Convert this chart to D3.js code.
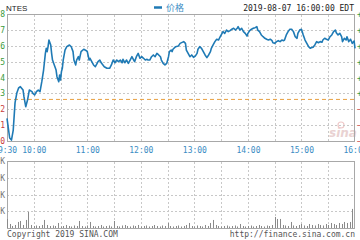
<!DOCTYPE html>
<html><head><meta charset="utf-8">
<script src="https://cdn.jsdelivr.net/npm/d3@7"></script>
<style>
html,body{margin:0;padding:0;background:#fff;overflow:hidden;}
svg{display:block;}
</style></head>
<body>
<svg id="chart" width="360" height="240"></svg>
<script>
// ---- data ----
const symbol = "NTES";
const stamp = "2019-08-07 16:00:00 EDT";
const prevClose = 222.62;
// minutes after 9:30 for each price sample
const minutes = [0,3,5,7,9,11,13,15,18,19,21,23,25,28,29,31,33,35,37,39,41,43,44,45,46,47,49,50,51,53,55,56,58,59,60,61,62,63,65,67,70,72,74,75,77,78,80,81,83,86,89,90,92,
93,95,97,99,101,102,104,106,109,112,115,117,119,121,123,125,127,129,130,132,134,136,138,140,142,143,145,147,149,151,153,155,157,158,160,162,164,166,168,170,172,173,175,177,179,181,182,184,185,186,189,192,194,
198,200,201,203,205,207,209,211,213,214,216,218,220,222,224,226,228,229,231,233,235,237,239,241,242,244,246,248,250,252,254,256,258,259,261,263,265,267,269,270,272,274,276,278,280,281,283,285,287,289,291,293,295,
297,298,300,302,304,306,308,310,311,313,315,317,319,321,323,325,326,328,330,332,334,336,338,340,341,343,345,347,349,351,353,354,356,358,360,362,364,366,368,369,371,373,375,376,378,380,381,383,385,387,389,390];
const prices = [221.43,220.19,220.06,220.69,222.40,223.02,223.34,223.42,223.21,222.79,222.16,222.58,223.21,223.11,223.00,222.90,223.11,223.21,223.11,223.74,224.47,225.52,225.84,225.63,225.94,226.36,226.05,225.52,225.10,224.79,224.47,224.05,223.74,224.16,223.84,224.37,224.58,225.10,225.73,225.94,226.05,225.94,225.63,225.10,224.79,225.10,225.31,225.10,225.63,225.78,225.69,225.63,225.10,
225.21,225.00,224.79,224.68,224.89,225.00,225.10,224.89,224.68,224.58,224.58,224.79,225.10,224.93,225.10,225.00,225.10,224.93,225.15,224.93,225.10,224.89,225.10,225.31,225.10,225.00,225.31,225.52,225.21,225.31,225.21,225.10,225.15,225.10,225.10,225.31,225.42,225.31,225.52,225.42,225.31,225.10,224.89,224.79,224.89,225.31,225.63,225.73,225.63,225.78,225.94,225.98,226.15,
226.26,226.15,225.73,225.52,225.31,225.42,225.27,225.35,225.52,225.78,225.94,225.84,225.63,225.42,225.25,225.42,225.63,225.84,226.05,226.26,226.41,226.36,226.57,226.78,226.89,226.78,226.99,226.89,226.95,227.04,227.10,226.99,227.10,227.20,226.99,227.10,226.89,226.78,226.61,226.78,226.95,227.04,227.10,227.14,227.20,226.99,226.89,226.68,226.57,226.47,226.41,226.36,226.41,
226.32,226.19,226.15,226.26,226.32,226.26,226.36,226.32,226.36,226.68,226.89,227.04,227.04,226.89,226.57,226.47,226.78,226.99,227.04,226.68,226.36,226.15,225.94,225.84,225.88,225.90,226.05,226.26,226.19,226.26,226.22,226.36,226.47,226.41,226.36,226.57,226.68,226.89,226.99,226.82,226.68,226.78,226.57,226.26,226.47,226.36,226.57,226.26,226.41,226.15,226.30,225.84];
// volume per 3-minute slot, shares
const volumes = [5400,2400,1200,1800,3600,4200,1800,4800,9600,1800,1200,1500,1200,1800,4800,1800,1200,1500,1200,3000,
900,1200,1800,1200,900,1500,1200,4200,1200,900,1500,3600,1200,900,1200,1800,900,1200,1500,900,
4200,1200,900,1500,1800,1200,900,1500,1200,1800,900,1200,1500,900,1200,1800,1200,900,1500,1200,
3000,1200,900,1200,1500,900,1200,1800,3000,1200,900,1500,1200,900,1800,1200,3000,4800,1800,1200,
900,1200,1500,900,1200,1500,900,2400,1200,900,1200,1500,900,1200,1800,1200,900,1500,1200,1800,
6600,5400,5400,1800,1500,1200,3600,1500,1200,1800,2400,1500,1200,2400,1800,1500,2400,1800,1500,2400,
1800,3000,2400,1800,3000,2400,3600,3000,3600,11400];
const volSlot = 3;
const priceTicks = [220,221,222,223,224,225,226,227,228];
const volTicks = [10000,20000,30000,40000];
const gridMinutes = [30,60,90,120,150,180,210,240,270,300,330,360];
const timeTicks = [0,30,90,150,210,270,330,390];
const timeLabels = ["9:30","10:00","11:00","12:00","13:00","14:00","15:00","16:00"];

// ---- layout ----
const svg = d3.select("#chart");
const L = 7, R = 355, PT = 14, PB = 141, VT = 161, VB = 228;
const mono = "'DejaVu Sans Mono', monospace";
const up = "#3a9a3a", down = "#c83c3c", blue = "#1f7ab5", labBlue = "#3a8cc4", grid = "#c8c8c8";

const x = d3.scaleLinear().domain([0,390]).range([L,R]);
const y = d3.scaleLinear().domain([220,228]).range([PB,PT]);
const yv = d3.scaleLinear().domain([0,40000]).range([VB,VT]);

// watermark
const wm = svg.append("g");
wm.append("text").attr("x",329).attr("y",137).text("sina")
  .attr("font-family","'DejaVu Sans', sans-serif").attr("font-style","italic").attr("font-weight","bold")
  .attr("font-size",12).attr("fill","#e9d2d2");
wm.append("circle").attr("cx",341).attr("cy",125).attr("r",3).attr("fill","none").attr("stroke","#efc8c8").attr("stroke-width",1.2);

// grids via axes
function gridH(scale, ticks, y0){
  const g = svg.append("g").attr("transform",`translate(${L},0)`)
    .call(d3.axisLeft(scale).tickValues(ticks).tickSize(-(R-L)).tickFormat(""));
  g.select(".domain").remove();
  g.selectAll("line").attr("stroke",grid).attr("stroke-dasharray","2,2").attr("shape-rendering","crispEdges");
}
function gridV(top, bot){
  const g = svg.append("g").attr("transform",`translate(0,${bot})`)
    .call(d3.axisBottom(x).tickValues(gridMinutes).tickSize(-(bot-top)).tickFormat(""));
  g.select(".domain").remove();
  g.selectAll("line").attr("stroke",grid).attr("stroke-dasharray","2,2").attr("shape-rendering","crispEdges");
}
gridH(y, priceTicks.slice(1,-1));
gridV(PT, PB);
gridH(yv, volTicks.slice(0,-1));
gridV(VT, VB);

// frames
[[PT,PB],[VT,VB]].forEach(([t,b])=>{
  svg.append("rect").attr("x",L+0.5).attr("y",t+0.5).attr("width",R-L-1).attr("height",b-t)
    .attr("fill","none").attr("stroke","#a8a8a8").attr("stroke-width",1).attr("shape-rendering","crispEdges");
});

// previous close
svg.append("line").attr("x1",L).attr("x2",R).attr("y1",y(prevClose)).attr("y2",y(prevClose))
  .attr("stroke","#e8a040").attr("stroke-width",1).attr("stroke-dasharray","4,3");

// volume bars
svg.append("g").selectAll("rect").data(volumes).join("rect")
  .attr("x",(d,i)=>Math.round(x(i*volSlot)))
  .attr("width",1)
  .attr("y",d=>yv(d))
  .attr("height",d=>VB-yv(d))
  .attr("fill","#8a8a8a");

// price line
const pts = minutes.map((m,i)=>[m,prices[i]]);
svg.append("path").datum(pts)
  .attr("d",d3.line().x(d=>x(d[0])).y(d=>y(d[1])))
  .attr("fill","none").attr("stroke",blue).attr("stroke-width",1.6).attr("stroke-linejoin","round");

// left price labels
const gl = svg.append("g").attr("transform","translate(5,0)")
  .call(d3.axisLeft(y).tickValues(priceTicks).tickSize(0).tickPadding(0).tickFormat(d3.format("d")));
gl.select(".domain").remove();
gl.selectAll("text").attr("font-family",mono).attr("font-size",8)
  .attr("fill",d=>d>prevClose?up:down);

// right percent labels
const gr = svg.append("g").attr("transform",`translate(357,0)`)
  .call(d3.axisRight(y).tickValues(priceTicks).tickSize(0).tickPadding(0)
    .tickFormat(d=>d3.format("+.2f")((d-prevClose)/prevClose*100)+"%"));
gr.select(".domain").remove();
gr.selectAll("text").attr("font-family",mono).attr("font-size",8)
  .attr("fill",d=>d>prevClose?up:down);

// volume labels
const gvl = svg.append("g").attr("transform","translate(5,0)")
  .call(d3.axisLeft(yv).tickValues(volTicks).tickSize(0).tickPadding(0).tickFormat(d=>(d/1000)+"K"));
gvl.select(".domain").remove();
gvl.selectAll("text").attr("font-family",mono).attr("font-size",8).attr("fill","#777");

// time labels
const gx = svg.append("g").attr("transform",`translate(0,${PB})`)
  .call(d3.axisBottom(x).tickValues(timeTicks).tickSize(0).tickPadding(0).tickFormat((d,i)=>timeLabels[i]));
gx.select(".domain").remove();
gx.selectAll("text").attr("y",12).attr("dy",0).attr("font-family",mono).attr("font-size",8).attr("fill",labBlue);

// header
svg.append("text").attr("x",6).attr("y",11).text(symbol)
  .attr("font-family","'Liberation Sans', Arial, sans-serif").attr("font-size",8).attr("fill","#222");
svg.append("line").attr("x1",154).attr("x2",162).attr("y1",7.5).attr("y2",7.5).attr("stroke",blue).attr("stroke-width",2.5);
svg.append("text").attr("x",166).attr("y",11).text("价格")
  .attr("font-family","'Noto Sans CJK SC', sans-serif").attr("font-size",9).attr("fill",labBlue);
svg.append("text").attr("x",354).attr("y",11).attr("text-anchor","end").text(stamp)
  .attr("font-family",mono).attr("font-size",8).attr("fill","#222");

// footer
svg.append("text").attr("x",7).attr("y",236.5).text("Copyright 2019 SINA.COM")
  .attr("font-family",mono).attr("font-size",8).attr("fill","#555");
svg.append("text").attr("x",355).attr("y",236.5).attr("text-anchor","end").text("http://finance.sina.com.cn")
  .attr("font-family",mono).attr("font-size",8).attr("fill","#555");
</script>
</body></html>
